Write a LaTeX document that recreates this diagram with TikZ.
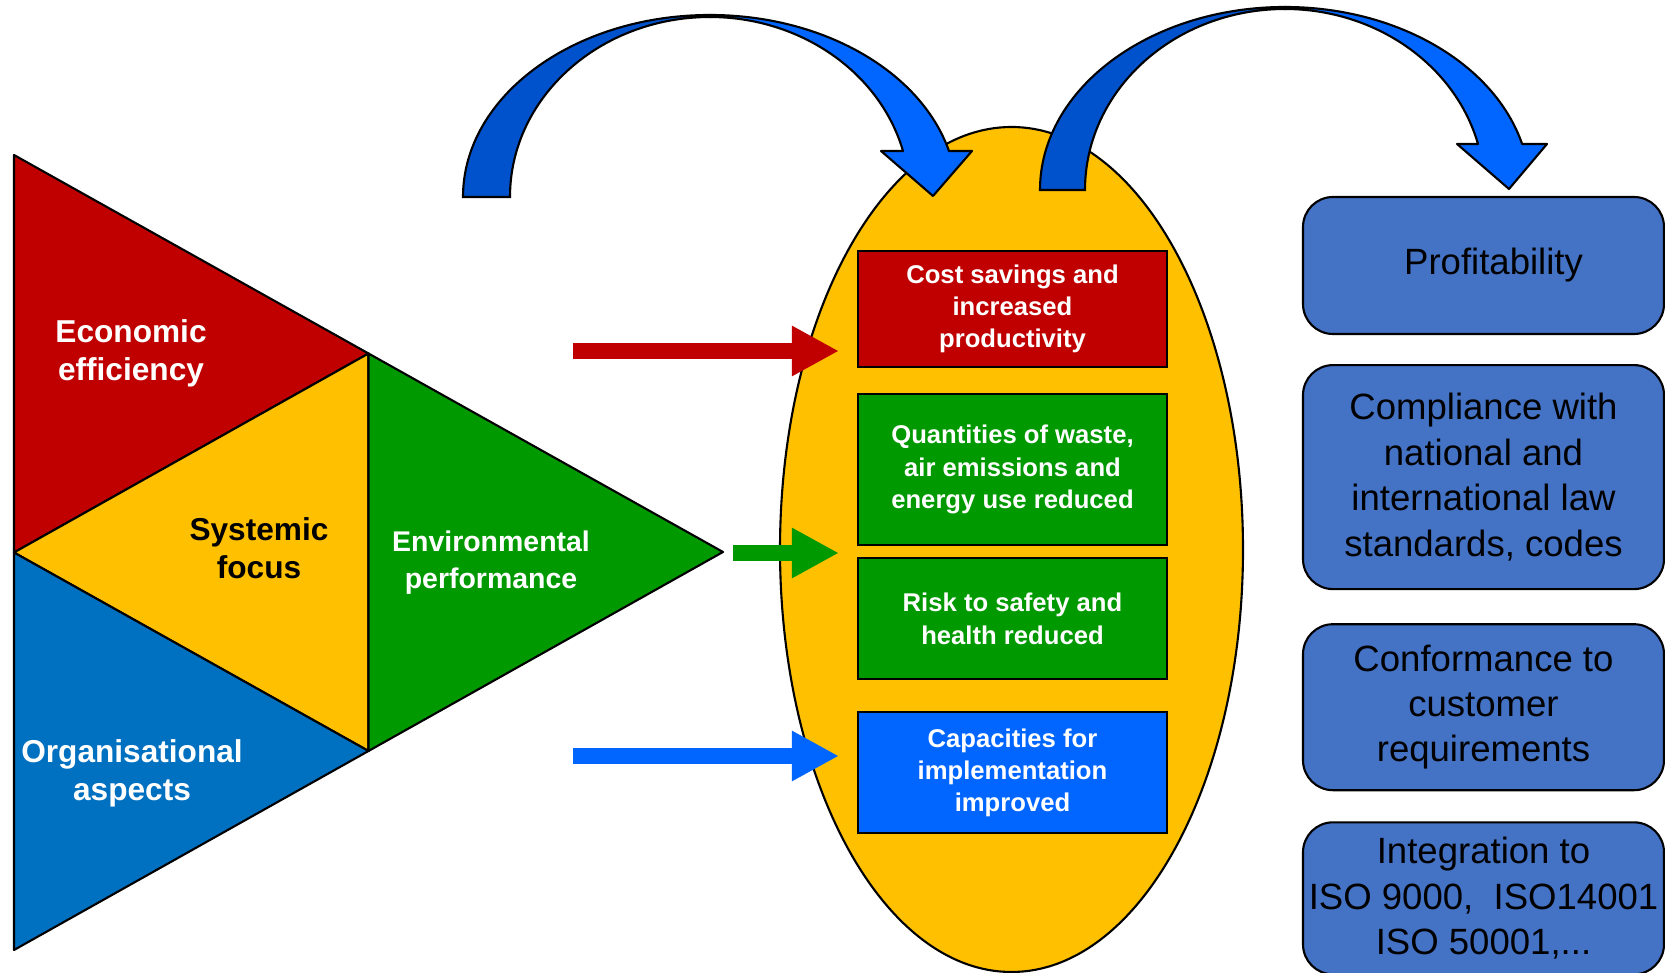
\documentclass[tikz,border=0pt]{standalone}
\usepackage{fontspec}
\setmainfont{Liberation Sans}
\usepackage{tikz}
\usetikzlibrary{shapes.geometric,positioning,arrows.meta,calc}
\definecolor{ecored}{RGB}{192,0,0}
\definecolor{sysyellow}{RGB}{255,192,0}
\definecolor{envgreen}{RGB}{0,153,0}
\definecolor{orgblue}{RGB}{0,112,192}
\definecolor{arrowblue}{RGB}{0,102,255}
\definecolor{arrowdark}{RGB}{0,82,204}
\definecolor{resultblue}{RGB}{68,114,196}

\begin{document}
\begin{tikzpicture}[
  tri/.style={draw=black, line width=0.6pt, line join=round},
  lab/.style={align=center, font=\fontsize{9}{10.8}\selectfont\bfseries},
  effet/.style={draw=black, line width=0.6pt, minimum width=3.09cm, text=white, align=center, font=\fontsize{7.3}{9.2}\selectfont\bfseries},
  resultat/.style={draw=black, line width=0.6pt, fill=resultblue, rounded corners=0.3cm, minimum width=3.61cm, inner xsep=0.01cm, align=center, font=\fontsize{10.4}{12.9}\selectfont},
  fleche/.style={line width=0.16cm, -{Triangle[length=0.47cm,width=0.47cm]}}
]
\useasboundingbox (0,0) rectangle (16.65,9.73);
\coordinate (A) at (0.14,8.18);
\coordinate (B) at (0.14,0.23);
\coordinate (C) at (7.23,4.21);
\coordinate (AB) at ($(A)!0.5!(B)$);
\coordinate (AC) at ($(A)!0.5!(C)$);
\coordinate (BC) at ($(B)!0.5!(C)$);
\draw [tri, fill=ecored] (A) -- (AC) -- (AB) -- cycle;
\draw [tri, fill=sysyellow] (AB) -- (AC) -- (BC) -- cycle;
\draw [tri, fill=envgreen] (AC) -- (C) -- (BC) -- cycle;
\draw [tri, fill=orgblue] (AB) -- (BC) -- (B) -- cycle;
\node [lab, text=white] (eco) at (1.31,6.20) {Economic\\efficiency};
\node [lab] (sys) at (2.59,4.25) {Systemic\\focus};
\node [lab, text=white, font=\fontsize{8.1}{10.6}\selectfont\bfseries] (env) at (4.91,4.10) {Environmental\\performance};
\node [lab, text=white] (org) at (1.32,2.00) {Organisational\\aspects};

\node [ellipse, draw=black, line width=0.6pt, fill=sysyellow, minimum width=4.63cm, minimum height=8.45cm, inner sep=0pt] (coeur) at (10.115,4.235) {};
\node [effet, fill=ecored, minimum height=1.16cm] (cout) at (10.125,6.64) {Cost savings and\\increased\\productivity};
\node [effet, fill=envgreen, minimum height=1.51cm, below=0.25cm of cout] (dechets) {Quantities of waste,\\air emissions and\\energy use reduced};
\node [effet, fill=envgreen, minimum height=1.21cm, below=0.11cm of dechets] (risque) {Risk to safety and\\health reduced};
\node [effet, fill=arrowblue, minimum height=1.21cm, below=0.31cm of risque] (capa) {Capacities for\\implementation\\improved};

\coordinate (r0) at (5.73,6.22);
\coordinate (g0) at (7.33,4.20);
\coordinate (b0) at (5.73,2.17);
\draw [fleche, ecored] (r0) -- ($(cout.west |- r0)+(-0.18,0)$);
\draw [fleche, envgreen] (g0) -- ($(dechets.west |- g0)+(-0.18,0)$);
\draw [fleche, arrowblue] (b0) -- ($(capa.west |- b0)+(-0.18,0)$);

\draw [fill=arrowdark, line width=0.6pt] (4.63,7.76) arc [start angle=180, end angle=90, x radius=2.47cm, y radius=1.82cm] -- (7.10,9.56) arc [start angle=90, end angle=180, x radius=2.00cm, y radius=1.80cm] -- cycle;
\draw [fill=arrowblue, line width=0.6pt, line join=round] (7.10,9.58) arc [start angle=90, end angle=14.64, x radius=2.47cm, y radius=1.82cm] -- (9.72,8.22) -- (9.33,7.77) -- (8.81,8.22) -- (9.03,8.22) arc [start angle=14.81, end angle=90, x radius=2.00cm, y radius=1.80cm] -- cycle;
\draw [fill=arrowdark, line width=0.6pt] (10.40,7.83) arc [start angle=180, end angle=90, x radius=2.45cm, y radius=1.83cm] -- (12.85,9.64) arc [start angle=90, end angle=180, x radius=2.00cm, y radius=1.81cm] -- cycle;
\draw [fill=arrowblue, line width=0.6pt, line join=round] (12.85,9.66) arc [start angle=90, end angle=14.56, x radius=2.45cm, y radius=1.83cm] -- (15.47,8.29) -- (15.09,7.84) -- (14.57,8.29) -- (14.78,8.29) arc [start angle=14.72, end angle=90, x radius=2.00cm, y radius=1.81cm] -- cycle;

\node [resultat, minimum height=1.37cm] (profit) at (14.835,7.075) {\hspace*{0.2cm}Profitability};
\node [resultat, minimum height=2.24cm, below=0.29cm of profit] (conform) {Compliance with\\national and\\international law\\standards, codes};
\node [resultat, minimum height=1.66cm, below=0.33cm of conform] (client) {Conformance to\\customer\\requirements};
\node [resultat, minimum height=1.52cm, below=0.30cm of client] (iso) {Integration to\\ISO 9000,\ \ ISO14001\\ISO 50001,...};
\end{tikzpicture}
\end{document}
